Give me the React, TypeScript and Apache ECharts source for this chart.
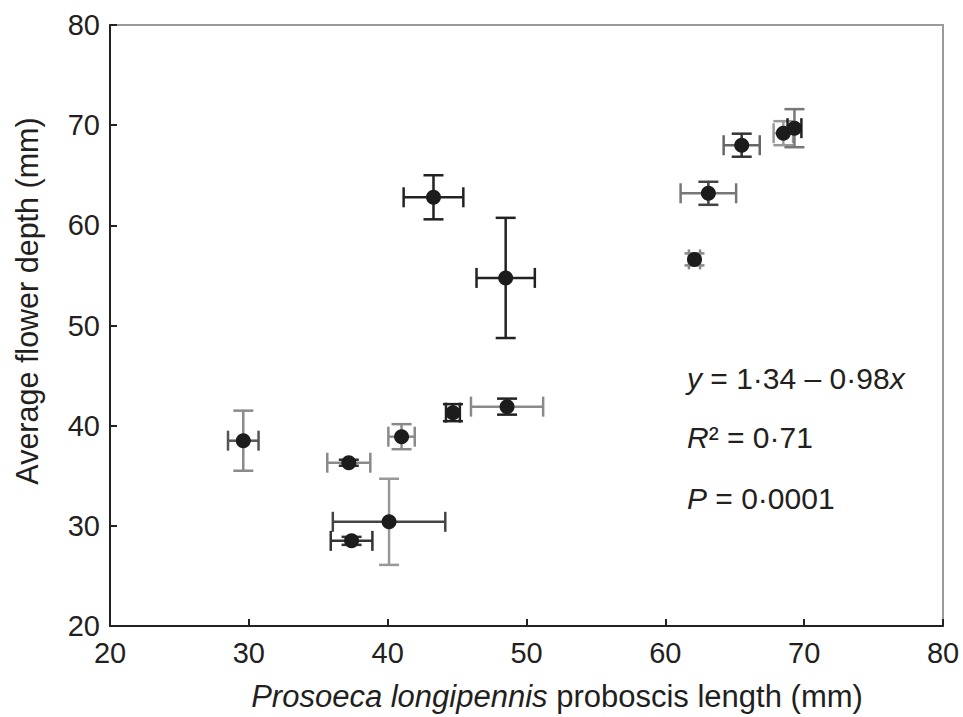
import React, { useEffect, useRef } from "react";
import * as echarts from "echarts";

// Prosoeca longipennis proboscis length (mm)
const proboscis = [29.6, 37.2, 41.0, 44.7, 48.6, 40.1, 37.4, 43.3, 48.5, 62.1, 63.1, 65.5, 68.5, 69.3];
// Average flower depth (mm)
const flowerDepth = [38.5, 36.3, 38.9, 41.3, 41.9, 30.4, 28.5, 62.8, 54.75, 56.6, 63.2, 68.0, 69.2, 69.7];
// error half-widths
const proboscisErr = [1.1, 1.55, 0.95, 0.5, 2.6, 4.05, 1.5, 2.15, 2.1, 0.4, 2.0, 1.3, 0.7, 0.5];
const depthErr = [3.0, 0.3, 1.25, 0.85, 0.8, 4.3, 0.4, 2.2, 6.0, 0.6, 1.15, 1.15, 1.2, 1.9];

const xTicks = [20, 30, 40, 50, 60, 70, 80];
const yTicks = [20, 30, 40, 50, 60, 70, 80];

// style: error-bar tones (horizontal, vertical)
const hTone = ["#555", "#8a8a8a", "#8a8a8a", "#222", "#8a8a8a", "#444", "#333", "#222", "#222", "#8a8a8a", "#777", "#666", "#999", "#222"];
const vTone = ["#8a8a8a", "#333", "#8a8a8a", "#222", "#222", "#999", "#333", "#222", "#222", "#8a8a8a", "#444", "#333", "#999", "#777"];

const TEXT = "#231f20";
const FONT = "'Liberation Sans', Arial, Helvetica, sans-serif";

export default function App() {
  const ref = useRef<HTMLDivElement>(null);

  useEffect(() => {
    if (!ref.current) return;
    const chart = echarts.init(ref.current, undefined, { renderer: "svg" });
    const data = proboscis.map((x, i) => [x, flowerDepth[i], proboscisErr[i], depthErr[i]]);
    const cap = 10;
    const italic = { fontStyle: "italic", fontSize: 30, fontFamily: FONT, fill: TEXT };

    chart.setOption({
      animation: false,
      backgroundColor: "#fff",
      textStyle: { fontFamily: FONT },
      grid: {
        left: 110,
        right: 20,
        top: 25,
        bottom: 91,
        show: true,
        borderColor: "#9a9a9a",
        borderWidth: 2,
        backgroundColor: "transparent",
      },
      xAxis: {
        type: "value",
        min: xTicks[0],
        max: xTicks[xTicks.length - 1],
        interval: xTicks[1] - xTicks[0],
        axisLine: { show: true, lineStyle: { color: "#222", width: 2 } },
        axisTick: { show: true, inside: true, length: 7, lineStyle: { color: "#222", width: 2 } },
        splitLine: { show: false },
        axisLabel: { color: TEXT, fontSize: 29, margin: 12, fontFamily: FONT },
      },
      yAxis: {
        type: "value",
        min: yTicks[0],
        max: yTicks[yTicks.length - 1],
        interval: yTicks[1] - yTicks[0],
        axisLine: { show: true, lineStyle: { color: "#222", width: 2 } },
        axisTick: { show: true, inside: true, length: 7, lineStyle: { color: "#222", width: 2 } },
        splitLine: { show: false },
        axisLabel: { color: TEXT, fontSize: 29, margin: 10, fontFamily: FONT },
      },
      graphic: [
        {
          type: "text",
          x: 27,
          y: 301,
          rotation: Math.PI / 2,
          style: {
            text: "Average flower depth (mm)",
            fill: TEXT,
            fontSize: 30.5,
            fontFamily: FONT,
            align: "center",
            verticalAlign: "middle",
          },
        },
        {
          type: "text",
          x: 557,
          y: 696,
          style: {
            text: "{i|Prosoeca longipennis} proboscis length (mm)",
            fill: TEXT,
            fontSize: 31,
            fontFamily: FONT,
            align: "center",
            verticalAlign: "middle",
            rich: { i: { ...italic, fontSize: 31 } },
          },
        },
        {
          type: "text",
          x: 687,
          y: 378,
          style: {
            text: "{i|y} = 1·34 – 0·98{i|x}",
            fill: TEXT,
            fontSize: 30,
            fontFamily: FONT,
            verticalAlign: "middle",
            rich: { i: italic },
          },
        },
        {
          type: "text",
          x: 687,
          y: 437,
          style: {
            text: "{i|R}² = 0·71",
            fill: TEXT,
            fontSize: 30,
            fontFamily: FONT,
            verticalAlign: "middle",
            rich: { i: italic },
          },
        },
        {
          type: "text",
          x: 687,
          y: 498,
          style: {
            text: "{i|P} = 0·0001",
            fill: TEXT,
            fontSize: 30,
            fontFamily: FONT,
            verticalAlign: "middle",
            rich: { i: italic },
          },
        },
      ],
      series: [
        {
          type: "custom",
          data,
          z: 2,
          renderItem: (params: any, api: any) => {
            const i = params.dataIndex;
            const x = api.value(0);
            const y = api.value(1);
            const ex = api.value(2);
            const ey = api.value(3);
            const l = api.coord([x - ex, y]);
            const r = api.coord([x + ex, y]);
            const t = api.coord([x, y + ey]);
            const b = api.coord([x, y - ey]);
            const hs = { stroke: hTone[i], lineWidth: 2.5 };
            const vs = { stroke: vTone[i], lineWidth: 2.5 };
            return {
              type: "group",
              children: [
                { type: "line", shape: { x1: l[0], y1: l[1], x2: r[0], y2: r[1] }, style: hs },
                { type: "line", shape: { x1: l[0], y1: l[1] - cap, x2: l[0], y2: l[1] + cap }, style: hs },
                { type: "line", shape: { x1: r[0], y1: r[1] - cap, x2: r[0], y2: r[1] + cap }, style: hs },
                { type: "line", shape: { x1: t[0], y1: t[1], x2: b[0], y2: b[1] }, style: vs },
                { type: "line", shape: { x1: t[0] - cap, y1: t[1], x2: t[0] + cap, y2: t[1] }, style: vs },
                { type: "line", shape: { x1: b[0] - cap, y1: b[1], x2: b[0] + cap, y2: b[1] }, style: vs },
              ],
            };
          },
        },
        {
          type: "scatter",
          data: data.map((d) => [d[0], d[1]]),
          symbol: "circle",
          symbolSize: 15,
          z: 3,
          itemStyle: { color: "#1c1c1c", opacity: 1 },
        },
      ],
    });

    return () => chart.dispose();
  }, []);

  return <div ref={ref} style={{ width: 963, height: 717, position: "absolute", left: 0, top: 0 }} />;
}
